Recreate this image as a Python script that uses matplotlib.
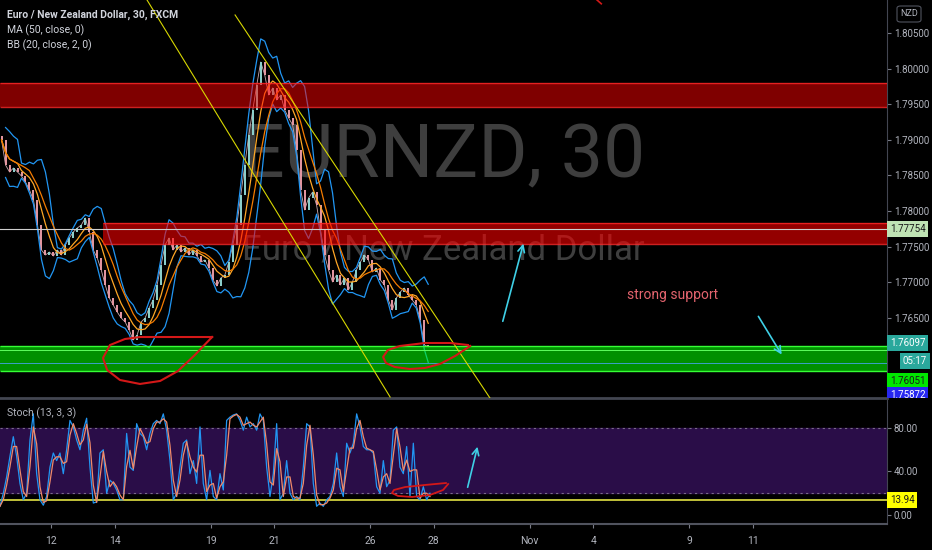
import numpy as np
import pandas as pd
import matplotlib
matplotlib.use("Agg")
import matplotlib.pyplot as plt
from matplotlib.transforms import blended_transform_factory
from matplotlib.patches import Rectangle, FancyBboxPatch

plt.rcParams['font.family'] = ['Roboto', 'DejaVu Sans']

# x axis = trading days counted from Oct 12 (weekends skipped)
x0 = -1.55
step = 1 / 8
closes = [1.78998, 1.78647, 1.78549, 1.78605, 1.78549, 1.78493, 1.78409, 1.78297, 1.78156, 1.77805,
          1.77454, 1.77384, 1.77426, 1.77370, 1.77454, 1.77384, 1.77525, 1.77623, 1.77707, 1.77763,
          1.77805, 1.77904, 1.77707, 1.77454, 1.77342, 1.77174, 1.76963, 1.76781, 1.76682, 1.76584,
          1.76500, 1.76444, 1.76332, 1.76191, 1.76261, 1.76444, 1.76500, 1.76640, 1.76753, 1.76963,
          1.77244, 1.77525, 1.77623, 1.77454, 1.77525, 1.77426, 1.77482, 1.77384, 1.77454, 1.77370,
          1.77286, 1.77314, 1.77202, 1.77033, 1.76949, 1.77061, 1.77104, 1.77286, 1.77525, 1.77805,
          1.78226, 1.78647, 1.79068, 1.79419, 1.79770, 1.80093, 1.79911, 1.79630, 1.79728, 1.79560,
          1.79630, 1.79419, 1.79307, 1.79209, 1.78858, 1.78297, 1.78016, 1.78184, 1.78268, 1.78086,
          1.77735, 1.77384, 1.77174, 1.77005, 1.77104, 1.76963, 1.77061, 1.76893, 1.77005, 1.77174,
          1.77286, 1.77384, 1.77314, 1.77146, 1.77202, 1.77033, 1.76963, 1.76753, 1.76612, 1.76781,
          1.76865, 1.76921, 1.76823, 1.76753, 1.76682, 1.76472, 1.76121, 1.76097]

stoch_x0 = -1.6
stoch_step = 0.1045
stoch_k = [8, 20, 35, 54, 72, 54, 29, 14, 20, 69, 93, 38, 14, 9, 17, 44, 57, 50, 57, 38,
           60, 87, 81, 69, 60, 78, 89, 44, 11, 12, 57, 60, 20, 32, 29, 23, 14, 14, 75, 44,
           41, 84, 75, 72, 60, 75, 84, 87, 84, 93, 78, 50, 14, 20, 44, 66, 69, 38, 50, 29,
           81, 29, 14,
           41, 17, 14, 38, 23, 87, 90, 92, 93, 87, 78, 90, 81, 84, 78, 93, 87, 44, 17, 38,
           84, 14, 20, 50, 20, 14, 17, 14, 44, 84, 81, 29, 8, 11, 8, 14, 17, 29, 57, 26,
           17, 66, 57, 66, 93, 81, 63, 60, 60, 57, 26, 20, 50, 26, 32, 78, 81, 44, 38, 63,
           17, 66, 17, 14, 26, 14, 20]

day_ticks = [0, 2, 5, 7, 10, 12, 15, 17, 20, 22]
day_labels = ['12', '14', '19', '21', '26', '28', 'Nov', '4', '9', '11']
price_ticks = [1.765, 1.770, 1.775, 1.780, 1.785, 1.790, 1.795, 1.800, 1.805]

# drawn zones: x start, low, high
red_zone_top = (-1.6, 1.79461, 1.79798)
red_zone_mid = (1.63, 1.77539, 1.77833)
green_zone = (-1.6, 1.75756, 1.76107)

trend_a_x, trend_a_y = [3.01, 10.63], [1.80963, 1.75391]
trend_b_x, trend_b_y = [5.77, 13.76], [1.80753, 1.75377]

loop_left_x = [5.05, 3.89, 2.79, 2.32, 1.85, 1.63, 1.76, 2.16, 2.79, 3.42, 3.98, 4.51, 5.05]
loop_left_y = [1.76233, 1.76233, 1.76233, 1.76205, 1.76121, 1.75939, 1.75770, 1.75630, 1.75574,
               1.75616, 1.75756, 1.75981, 1.76233]
loop_right_x = [13.07, 12.51, 11.72, 10.94, 10.56, 10.41, 10.50, 10.78, 11.25, 11.72, 12.19, 12.67, 13.14]
loop_right_y = [1.76121, 1.76149, 1.76149, 1.76107, 1.76051, 1.75953, 1.75868, 1.75812, 1.75784,
                1.75798, 1.75854, 1.75967, 1.76107]
loop_stoch_x = [12.38, 11.72, 11.10, 10.75, 10.69, 10.88, 11.32, 11.88, 12.29, 12.45]
loop_stoch_y = [29.4, 27.6, 25.7, 23.0, 20.2, 17.5, 16.6, 18.4, 23.0, 28.5]

arrow_up = ((14.14, 1.76416), (14.83, 1.77581))
arrow_down = ((22.13, 1.76556), (22.95, 1.75953))
arrow_stoch = ((13.04, 23.0), (13.39, 65.3))

cyan = '#3fd0e6'
red_pen = '#d41818'
txt = '#b2b5be'
grid_gray = '#434651'

fig = plt.figure(figsize=(9.32, 5.5), dpi=100, facecolor='black')
ax = fig.add_axes([0, 1 - 398 / 550, 887 / 932, 398 / 550], facecolor='black')
ax_st = fig.add_axes([0, 1 - 524 / 550, 887 / 932, 124 / 550], facecolor='black', sharex=ax)

ax.set_xlim(-1.599, 26.207)
ax.set_ylim(1.75377, 1.80963)
ax_st.set_ylim(-8.28, 105.75)

# watermark
ax.text(0.5, 0.606, 'EURNZD, 30', transform=ax.transAxes, ha='center', va='center',
        fontsize=54, color='#3e3e3e', zorder=0.5)
ax.text(0.5, 0.372, 'Euro / New Zealand Dollar', transform=ax.transAxes, ha='center', va='center',
        fontsize=25, color='#3e3e3e', zorder=0.5)

# candles
c = np.array(closes)
xs = x0 + step * np.arange(len(c))
o = np.concatenate([[1.79050], c[:-1]])
cols = np.where(c >= o, '#8fd3cf', '#e89aa4')
ax.plot(xs, c, color='#c9a9b0', lw=0.6, zorder=1.9)
ax.vlines(xs, np.minimum(o, c), np.maximum(o, c), colors=cols, linewidth=1.4, zorder=2)

s = pd.Series(closes)
basis = s.rolling(5, min_periods=1).mean()
sd = s.rolling(5, min_periods=2).std(ddof=0)
ma = s.rolling(8, min_periods=1).mean()
ax.plot(xs, basis + 2 * sd, color='#2196f3', lw=0.9, zorder=3)
ax.plot(xs, basis - 2 * sd, color='#2196f3', lw=0.9, zorder=3)
ax.plot(xs, basis, color='#ffa726', lw=0.9, zorder=3)
ax.plot(xs, ma, color='#f57c00', lw=0.9, zorder=3)

# zones
for (zx, lo, hi), fc, a in [(red_zone_top, '#ff0000', 0.5), (red_zone_mid, '#ff0000', 0.58)]:
    ax.add_patch(Rectangle((zx, lo), 30, hi - lo, fc=fc, alpha=a, ec='none', zorder=4))
    ax.hlines([lo, hi], zx, 26.3, color='#ff2a2a', lw=1, alpha=0.8, zorder=4)
gx, glo, ghi = green_zone
ax.add_patch(Rectangle((gx, glo), 30, ghi - glo, fc='#00ff00', alpha=0.57, ec='none', zorder=4))
ax.hlines([glo, ghi], gx, 26.3, color='#35ff35', lw=1, zorder=4)

# price lines
ax.axhline(1.77754, color='#cfcfcf', lw=0.8, zorder=4.5)
ax.axhline(1.76051, color='#5dff5d', lw=0.7, zorder=4.5)
ax.axhline(1.75872, color='#3ba0c8', lw=0.7, zorder=4.5)

# trend lines
ax.plot(trend_a_x, trend_a_y, color='#d8d800', lw=0.8, zorder=5)
ax.plot(trend_b_x, trend_b_y, color='#d8d800', lw=0.8, zorder=5)

# hand drawings
ax.plot(loop_left_x, loop_left_y, color=red_pen, lw=1.5, zorder=6)
ax.plot(loop_right_x, loop_right_y, color=red_pen, lw=1.5, zorder=6)
ax.plot([17.1, 17.25], [1.8097, 1.8091], color=red_pen, lw=1.2, zorder=6)
for tail, head in [arrow_up, arrow_down]:
    ax.annotate('', xy=head, xytext=tail,
                arrowprops=dict(arrowstyle='->', color=cyan, lw=1.2, mutation_scale=12), zorder=6)
ax.text(19.5, 1.76823, 'strong support', color='#e4646e', fontsize=10, ha='center', va='center', zorder=6)

# legend
ax.text(0.008, 1 - 15 / 398, 'Euro / New Zealand Dollar, 30, FXCM', transform=ax.transAxes,
        color='#d1d4dc', fontsize=7.5, fontweight='bold', va='center', zorder=7)
ax.text(0.008, 1 - 30 / 398, 'MA (50, close, 0)', transform=ax.transAxes,
        color='#d1d4dc', fontsize=7.5, va='center', zorder=7)
ax.text(0.008, 1 - 45 / 398, 'BB (20, close, 2, 0)', transform=ax.transAxes,
        color='#d1d4dc', fontsize=7.5, va='center', zorder=7)

# stochastic
k = pd.Series(stoch_k, dtype=float)
d = k.rolling(2, min_periods=1).mean()
sx = stoch_x0 + stoch_step * np.arange(len(k))
ax_st.axhspan(20, 80, color='#2a0d48', zorder=0)
ax_st.axhline(80, color='#7a6a8a', lw=0.8, ls=(0, (2, 3)))
ax_st.axhline(20, color='#7a6a8a', lw=0.8, ls=(0, (2, 3)))
ax_st.axhline(13.94, color='#c2c23a', lw=1.4, zorder=1)
ax_st.plot(sx, k, color='#2196f3', lw=0.9, zorder=2)
ax_st.plot(sx, d, color='#f08a6a', lw=0.9, zorder=3)
ax_st.plot(loop_stoch_x, loop_stoch_y, color=red_pen, lw=1.3, zorder=4)
ax_st.annotate('', xy=arrow_stoch[1], xytext=arrow_stoch[0],
               arrowprops=dict(arrowstyle='->', color=cyan, lw=1.2, mutation_scale=12), zorder=5)
ax_st.text(0.008, 1 - 13 / 124, 'Stoch (13, 3, 3)', transform=ax_st.transAxes,
           color='#b2b5be', fontsize=7.5, va='center')

# axes styling
for a in (ax, ax_st):
    for sp in a.spines.values():
        sp.set_visible(False)
    a.spines['right'].set_visible(True)
    a.spines['right'].set_color(grid_gray)
    a.yaxis.tick_right()
    a.tick_params(axis='y', length=3, color='#787b86', labelcolor=txt, labelsize=7, pad=2)
ax.spines['bottom'].set_visible(True)
ax.spines['bottom'].set_color(grid_gray)
ax.spines['bottom'].set_linewidth(2)
ax_st.spines['bottom'].set_visible(True)
ax_st.spines['bottom'].set_color('#50535e')
ax_st.spines['bottom'].set_linewidth(1.5)

ax.set_yticks(price_ticks, [f'{p:.5f}' for p in price_ticks])
ax.tick_params(axis='x', bottom=False, labelbottom=False)
ax_st.set_yticks([0, 40, 80], ['0.00', '40.00', '80.00'])
ax_st.set_xticks(day_ticks, day_labels)
ax_st.tick_params(axis='x', length=3, color='#787b86', labelcolor=txt, labelsize=7.5, pad=6)


# price tags on the right scale
def tag(axis, x, y, label, fc, tc):
    tr = blended_transform_factory(axis.transAxes, axis.transData)
    return axis.text(x, y, label, transform=tr, ha='left', va='center', fontsize=7, color=tc,
                     bbox=dict(boxstyle='square,pad=0.3', fc=fc, ec='none'), zorder=10, clip_on=False)


tag(ax, 1.003, 1.77754, '1.77754', '#bfe3b4', '#1a1a1a')
tag(ax, 1.003, 1.76149, '1.76097', '#2aa89c', 'white')
tag(ax, 1.018, 1.75896, '05:17', '#2aa89c', 'white')
tag(ax, 1.003, 1.75616, '1.76051', '#00e600', '#1a1a1a')
blue = tag(ax, 1.003, 1.75419, '1.75872', '#2727f0', 'white')
clip = Rectangle((887 / 932, 1 - 398 / 550), 45 / 932, 398 / 550, transform=fig.transFigure)
blue.set_clip_path(clip)
blue.set_clip_on(True)
tag(ax_st, 1.003, 13.94, '13.94', '#ffff00', '#1a1a1a')

fig.add_artist(FancyBboxPatch((897 / 932, 1 - 22 / 550), 24 / 932, 16 / 550,
                              boxstyle='round,pad=0,rounding_size=0.004', transform=fig.transFigure,
                              fc='none', ec='#50535e', lw=0.8))
fig.text(909 / 932, 1 - 14 / 550, 'NZD', ha='center', va='center', fontsize=6.5, color=txt)

fig.savefig('out.png', dpi=100, facecolor='black')
